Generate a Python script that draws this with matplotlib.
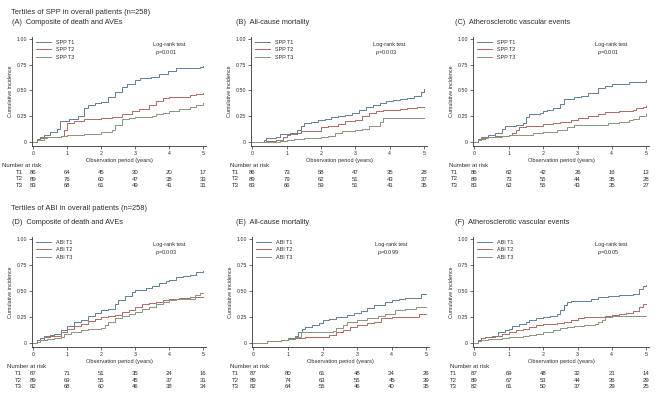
import matplotlib
matplotlib.use("Agg")
import matplotlib.pyplot as plt

plt.rcParams['font.family'] = ['Liberation Sans', 'DejaVu Sans']
plt.rcParams['mathtext.fontset'] = 'custom'
plt.rcParams['mathtext.it'] = 'Liberation Sans:italic'
plt.rcParams['mathtext.rm'] = 'Liberation Sans'

# ---------------- data ----------------
years = [0, 1, 2, 3, 4, 5]
tertiles = ["T1", "T2", "T3"]

# Panel A: SPP, composite of death and AVEs
A_T1_t = [0, 0.1, 0.2, 0.3, 0.5, 0.7, 0.78, 1.05, 1.3, 1.5, 1.6, 1.8, 2.0, 2.2, 2.4, 2.6, 2.75, 3.0, 3.15, 3.45, 3.7, 3.95, 4.2, 4.9, 5.0]
A_T1_y = [0, 0.03, 0.05, 0.07, 0.10, 0.13, 0.20, 0.22, 0.25, 0.33, 0.36, 0.38, 0.39, 0.44, 0.49, 0.53, 0.56, 0.60, 0.62, 0.63, 0.66, 0.69, 0.72, 0.73, 0.74]
A_T2_t = [0, 0.1, 0.2, 0.4, 0.8, 0.9, 1.0, 1.2, 1.5, 2.0, 2.3, 2.6, 2.9, 3.1, 3.4, 3.6, 3.8, 4.0, 4.6, 4.8, 5.0]
A_T2_y = [0, 0.02, 0.04, 0.05, 0.06, 0.12, 0.18, 0.20, 0.22, 0.23, 0.24, 0.27, 0.30, 0.32, 0.36, 0.40, 0.43, 0.44, 0.46, 0.47, 0.48]
A_T3_t = [0, 0.1, 0.3, 0.8, 1.0, 1.5, 2.0, 2.3, 2.4, 2.6, 2.8, 3.0, 3.5, 3.6, 3.8, 4.0, 4.3, 4.6, 4.8, 5.0]
A_T3_y = [0, 0.02, 0.05, 0.06, 0.07, 0.08, 0.10, 0.12, 0.16, 0.22, 0.23, 0.24, 0.25, 0.27, 0.28, 0.30, 0.32, 0.34, 0.36, 0.38]

# Panel B: SPP, all-cause mortality
B_T1_t = [0, 0.35, 0.4, 0.7, 0.8, 1.1, 1.3, 1.4, 1.5, 1.7, 1.9, 2.1, 2.3, 2.5, 2.7, 2.9, 3.1, 3.3, 3.5, 3.7, 3.9, 4.1, 4.3, 4.5, 4.7, 4.9, 5.0]
B_T1_y = [0, 0.02, 0.04, 0.05, 0.08, 0.09, 0.12, 0.15, 0.18, 0.19, 0.21, 0.22, 0.24, 0.25, 0.26, 0.28, 0.31, 0.34, 0.36, 0.38, 0.40, 0.41, 0.42, 0.43, 0.45, 0.49, 0.51]
B_T2_t = [0, 0.4, 0.7, 0.9, 1.0, 1.1, 1.3, 1.4, 2.0, 2.2, 2.5, 2.7, 3.0, 3.2, 3.4, 3.6, 3.8, 4.3, 4.5, 4.8, 5.0]
B_T2_y = [0, 0.01, 0.02, 0.05, 0.07, 0.08, 0.09, 0.11, 0.14, 0.15, 0.17, 0.20, 0.21, 0.25, 0.28, 0.30, 0.31, 0.32, 0.33, 0.34, 0.34]
B_T3_t = [0, 0.8, 1.0, 1.2, 1.5, 2.0, 2.2, 2.4, 2.6, 3.0, 3.2, 3.4, 3.7, 3.8, 5.0]
B_T3_y = [0, 0.01, 0.02, 0.03, 0.04, 0.05, 0.06, 0.09, 0.11, 0.12, 0.13, 0.15, 0.19, 0.23, 0.23]

# Panel C: SPP, atherosclerotic vascular events
C_T1_t = [0, 0.1, 0.2, 0.4, 0.6, 0.8, 0.9, 1.2, 1.4, 1.5, 1.6, 1.9, 2.0, 2.1, 2.3, 2.5, 2.6, 2.9, 3.1, 3.3, 3.6, 3.8, 4.0, 4.5, 4.9, 5.0]
C_T1_y = [0, 0.03, 0.05, 0.07, 0.09, 0.13, 0.15, 0.16, 0.18, 0.24, 0.27, 0.28, 0.30, 0.31, 0.33, 0.37, 0.42, 0.44, 0.45, 0.48, 0.52, 0.54, 0.56, 0.58, 0.58, 0.60]
C_T2_t = [0, 0.1, 0.3, 0.6, 1.0, 1.1, 1.2, 1.3, 1.5, 2.0, 2.3, 2.5, 2.8, 3.0, 3.3, 3.6, 3.8, 4.2, 4.6, 4.7, 4.9, 5.0]
C_T2_y = [0, 0.03, 0.05, 0.06, 0.07, 0.09, 0.12, 0.14, 0.15, 0.17, 0.18, 0.19, 0.21, 0.23, 0.25, 0.27, 0.29, 0.30, 0.31, 0.33, 0.34, 0.35]
C_T3_t = [0, 0.1, 0.2, 0.4, 0.8, 1.0, 1.7, 2.0, 2.4, 2.7, 2.9, 3.9, 4.2, 4.5, 4.6, 4.8, 5.0]
C_T3_y = [0, 0.02, 0.04, 0.05, 0.06, 0.07, 0.09, 0.10, 0.12, 0.14, 0.16, 0.18, 0.19, 0.21, 0.22, 0.25, 0.27]

# Panel D: ABI, composite of death and AVEs
D_T1_t = [0, 0.1, 0.2, 0.3, 0.5, 0.6, 0.8, 1.0, 1.2, 1.4, 1.6, 1.8, 2.0, 2.2, 2.4, 2.5, 2.7, 2.9, 3.0, 3.3, 3.5, 3.7, 3.9, 4.0, 4.2, 4.4, 4.6, 4.8, 5.0]
D_T1_y = [0, 0.03, 0.05, 0.07, 0.08, 0.09, 0.12, 0.16, 0.20, 0.22, 0.26, 0.29, 0.32, 0.33, 0.37, 0.41, 0.45, 0.49, 0.51, 0.53, 0.55, 0.58, 0.60, 0.61, 0.63, 0.64, 0.65, 0.68, 0.69]
D_T2_t = [0, 0.1, 0.3, 0.5, 0.8, 1.0, 1.2, 1.4, 1.6, 1.8, 2.0, 2.2, 2.4, 2.6, 2.8, 3.0, 3.2, 3.4, 3.6, 3.8, 4.0, 4.3, 4.6, 5.0]
D_T2_y = [0, 0.03, 0.06, 0.07, 0.10, 0.13, 0.16, 0.18, 0.21, 0.23, 0.25, 0.26, 0.27, 0.30, 0.32, 0.35, 0.37, 0.38, 0.39, 0.41, 0.42, 0.43, 0.44, 0.44]
D_T3_t = [0, 0.1, 0.2, 0.4, 0.6, 0.8, 0.9, 1.1, 1.4, 1.6, 2.0, 2.1, 2.2, 2.4, 2.6, 2.8, 3.0, 3.2, 3.4, 3.6, 3.8, 4.0, 4.2, 4.75, 4.9, 5.0]
D_T3_y = [0, 0.01, 0.03, 0.04, 0.05, 0.06, 0.09, 0.10, 0.12, 0.13, 0.14, 0.17, 0.20, 0.24, 0.26, 0.28, 0.30, 0.33, 0.35, 0.37, 0.39, 0.41, 0.42, 0.46, 0.48, 0.48]

# Panel E: ABI, all-cause mortality
E_T1_t = [0, 0.4, 0.8, 1.0, 1.2, 1.3, 1.4, 1.5, 1.7, 1.9, 2.0, 2.2, 2.4, 2.7, 2.9, 3.1, 3.3, 3.5, 3.8, 4.0, 4.2, 4.4, 4.85, 5.0]
E_T1_y = [0, 0.02, 0.03, 0.05, 0.07, 0.10, 0.13, 0.15, 0.17, 0.19, 0.22, 0.23, 0.25, 0.27, 0.29, 0.31, 0.34, 0.36, 0.39, 0.41, 0.42, 0.43, 0.47, 0.47]
E_T2_t = [0, 0.4, 0.8, 1.0, 1.2, 1.5, 2.2, 2.4, 2.6, 2.8, 3.0, 3.3, 3.5, 3.7, 4.0, 4.8, 5.0]
E_T2_y = [0, 0.02, 0.03, 0.04, 0.05, 0.06, 0.08, 0.10, 0.12, 0.15, 0.17, 0.19, 0.20, 0.24, 0.25, 0.28, 0.28]
E_T3_t = [0, 0.4, 0.8, 1.0, 1.2, 1.38, 2.3, 2.4, 2.6, 2.7, 3.0, 3.3, 3.6, 3.8, 4.1, 4.4, 4.7, 5.0]
E_T3_y = [0, 0.02, 0.03, 0.04, 0.06, 0.10, 0.11, 0.14, 0.17, 0.20, 0.22, 0.24, 0.26, 0.28, 0.32, 0.33, 0.35, 0.35]

# Panel F: ABI, atherosclerotic vascular events
F_T1_t = [0, 0.1, 0.2, 0.3, 0.5, 0.7, 0.9, 1.0, 1.1, 1.3, 1.5, 1.6, 1.8, 2.0, 2.2, 2.4, 2.5, 2.6, 2.7, 2.8, 3.4, 3.6, 3.9, 4.2, 4.6, 4.8, 4.9, 5.0]
F_T1_y = [0, 0.03, 0.05, 0.06, 0.07, 0.10, 0.12, 0.13, 0.16, 0.18, 0.20, 0.22, 0.24, 0.25, 0.26, 0.28, 0.32, 0.36, 0.39, 0.40, 0.42, 0.44, 0.45, 0.46, 0.47, 0.52, 0.55, 0.56]
F_T2_t = [0, 0.1, 0.2, 0.3, 0.6, 0.8, 1.0, 1.2, 1.4, 1.6, 1.8, 2.0, 2.4, 2.6, 2.8, 3.0, 3.2, 3.8, 4.0, 4.2, 4.4, 4.6, 4.8, 4.9, 5.0]
F_T2_y = [0, 0.03, 0.05, 0.06, 0.07, 0.09, 0.10, 0.12, 0.13, 0.15, 0.17, 0.18, 0.19, 0.20, 0.22, 0.24, 0.25, 0.26, 0.27, 0.28, 0.29, 0.31, 0.35, 0.37, 0.37]
F_T3_t = [0, 0.1, 0.2, 0.4, 0.8, 1.0, 1.4, 1.6, 1.8, 2.0, 2.3, 2.5, 2.7, 2.9, 3.2, 3.5, 3.6, 3.7, 3.8, 4.0, 5.0]
F_T3_y = [0, 0.02, 0.03, 0.04, 0.05, 0.06, 0.07, 0.08, 0.09, 0.10, 0.12, 0.14, 0.15, 0.16, 0.17, 0.18, 0.20, 0.22, 0.25, 0.26, 0.26]

# numbers at risk
A_risk_T1 = [86, 64, 45, 30, 20, 17]
A_risk_T2 = [89, 76, 60, 47, 38, 33]
A_risk_T3 = [83, 68, 61, 49, 41, 31]
B_risk_T1 = [86, 73, 58, 47, 35, 28]
B_risk_T2 = [89, 79, 62, 51, 43, 37]
B_risk_T3 = [83, 66, 59, 51, 41, 35]
C_risk_T1 = [86, 62, 42, 26, 16, 13]
C_risk_T2 = [89, 73, 55, 44, 35, 28]
C_risk_T3 = [83, 62, 55, 43, 35, 27]
D_risk_T1 = [87, 71, 51, 35, 24, 16]
D_risk_T2 = [89, 69, 55, 45, 37, 31]
D_risk_T3 = [82, 68, 60, 46, 38, 34]
E_risk_T1 = [87, 80, 61, 48, 34, 26]
E_risk_T2 = [89, 74, 63, 55, 45, 39]
E_risk_T3 = [82, 64, 55, 46, 40, 35]
F_risk_T1 = [87, 69, 48, 32, 21, 14]
F_risk_T2 = [89, 67, 53, 44, 36, 29]
F_risk_T3 = [82, 61, 50, 37, 29, 25]

panel_titles = ["(A)  Composite of death and AVEs", "(B)  All-cause mortality",
                "(C)  Atherosclerotic vascular events", "(D)  Composite of death and AVEs",
                "(E)  All-cause mortality", "(F)  Atherosclerotic vascular events"]
p_values = ["0.001", "0.003", "0.001", "0.003", "0.099", "0.005"]
group_titles = ["Tertiles of SPP in overall patients (n=258)",
                "Tertiles of ABI in overall patients (n=258)"]
markers = ["SPP", "SPP", "SPP", "ABI", "ABI", "ABI"]

# ---------------- layout ----------------
W, H = 659, 396
colors = ["#5f7f9d", "#ad6a63", "#859679"]
txt_col = "#2e2e2e"

fig = plt.figure(figsize=(W / 100, H / 100), dpi=100)

# axes boxes in pixels: left, top, right, bottom
boxes = [(32, 37, 206, 146), (251, 37, 427, 146), (473, 37, 649, 146),
         (32, 237, 206, 347), (252, 237, 429, 347), (473, 237, 649, 347)]
title_x = [12, 236, 455, 12, 236, 455]
nar_off = [-31, -22, -25, -26, -23, -24]
lab_off = [-14, -17, -20, -15, -18, -21]

curves = [
    [(A_T1_t, A_T1_y), (A_T2_t, A_T2_y), (A_T3_t, A_T3_y)],
    [(B_T1_t, B_T1_y), (B_T2_t, B_T2_y), (B_T3_t, B_T3_y)],
    [(C_T1_t, C_T1_y), (C_T2_t, C_T2_y), (C_T3_t, C_T3_y)],
    [(D_T1_t, D_T1_y), (D_T2_t, D_T2_y), (D_T3_t, D_T3_y)],
    [(E_T1_t, E_T1_y), (E_T2_t, E_T2_y), (E_T3_t, E_T3_y)],
    [(F_T1_t, F_T1_y), (F_T2_t, F_T2_y), (F_T3_t, F_T3_y)],
]
risks = [
    [A_risk_T1, A_risk_T2, A_risk_T3], [B_risk_T1, B_risk_T2, B_risk_T3],
    [C_risk_T1, C_risk_T2, C_risk_T3], [D_risk_T1, D_risk_T2, D_risk_T3],
    [E_risk_T1, E_risk_T2, E_risk_T3], [F_risk_T1, F_risk_T2, F_risk_T3],
]

def fx(px):
    return px / W

def fy(py):
    return 1 - py / H

fig.text(fx(11), fy(13), group_titles[0], fontsize=5.4, color=txt_col, va='center', ha='left')
fig.text(fx(11), fy(208), group_titles[1], fontsize=5.4, color=txt_col, va='center', ha='left')

XMIN, XMAX = -0.04, 5.08
for i, (l, t, r, b) in enumerate(boxes):
    ax = fig.add_axes([fx(l), fy(b), (r - l) / W, (b - t) / H])
    for k in range(3):
        tt, yy = curves[i][k]
        ax.step(tt, yy, where='post', color=colors[k], lw=0.7,
                label=f"{markers[i]} {tertiles[k]}")
    ax.set_xlim(XMIN, XMAX)
    ax.set_ylim(-0.04, 1.02)
    ax.set_xticks(years)
    ax.set_yticks([0, 0.25, 0.5, 0.75, 1.0])
    ax.set_yticklabels(["0", "0.25", "0.50", "0.75", "1.00"])
    for s in ["top", "right"]:
        ax.spines[s].set_visible(False)
    for s in ["left", "bottom"]:
        ax.spines[s].set_linewidth(0.6)
        ax.spines[s].set_color("#333333")
    ax.tick_params(direction='out', length=2.2, width=0.5, labelsize=3.8,
                   pad=1.5, colors="#333333", labelcolor=txt_col)
    ax.set_xlabel("Observation period (years)", fontsize=4.1, labelpad=1.0, color=txt_col)
    ax.set_ylabel("Cumulative incidence", fontsize=3.9, labelpad=2.5, color=txt_col)

    leg = ax.legend(loc='upper left', bbox_to_anchor=(0.025, 0.975), frameon=False,
                    fontsize=3.9, handlelength=2.7, handletextpad=0.9,
                    labelspacing=0.45, borderpad=0, borderaxespad=0)
    for txt in leg.get_texts():
        txt.set_color(txt_col)

    ax.text(0.695, 0.935, "Log-rank test", transform=ax.transAxes, fontsize=4.0,
            color=txt_col, va='center', ha='left')
    ax.text(0.705, 0.862, r"$\it{p}$=" + p_values[i], transform=ax.transAxes,
            fontsize=4.0, color=txt_col, va='center', ha='left')

    # panel title
    fig.text(fx(title_x[i]), fy(t - 14), panel_titles[i], fontsize=5.3,
             color=txt_col, va='center', ha='left')

    # number at risk table
    x0px = l + (0 - XMIN) / (XMAX - XMIN) * (r - l)
    fig.text(fx(x0px + nar_off[i]), fy(b + 19), "Number at risk", fontsize=4.3,
             color=txt_col, va='center', ha='left')
    trans = ax.get_xaxis_transform()
    rows_py = [b + 26.5, b + 33, b + 39.5]
    for k in range(3):
        fig.text(fx(x0px + lab_off[i]), fy(rows_py[k]), tertiles[k], fontsize=4.3,
                 color=txt_col, va='center', ha='center')
        yax = (b - rows_py[k]) / (b - t)
        for j, yr in enumerate(years):
            ax.text(yr, yax, str(risks[i][k][j]), transform=trans, fontsize=4.3,
                    color=txt_col, va='center', ha='center', clip_on=False)

fig.savefig("out.png", dpi=100)
